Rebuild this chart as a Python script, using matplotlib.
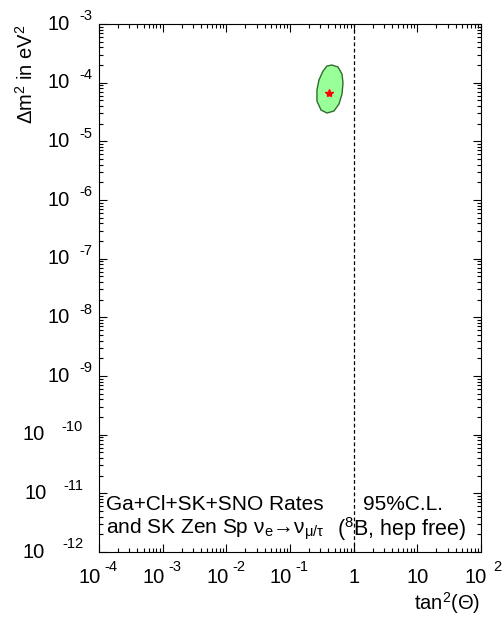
import numpy as np
import matplotlib
matplotlib.use('Agg')
import matplotlib.pyplot as plt
from matplotlib.ticker import FixedLocator, NullFormatter, LogLocator

plt.rcParams['font.family'] = ['Liberation Sans', 'DejaVu Sans']
plt.rcParams['mathtext.fontset'] = 'custom'
plt.rcParams['mathtext.rm'] = 'Liberation Sans'
plt.rcParams['mathtext.it'] = 'Liberation Sans'
plt.rcParams['mathtext.bf'] = 'Liberation Sans'

# 95% C.L. contour (tan^2 theta, delta m^2)
contour_tan2 = [0.456, 0.568, 0.656, 0.68, 0.656, 0.588, 0.491, 0.381,
                0.307, 0.265, 0.265, 0.285, 0.330, 0.381]
contour_dm2 = [2.0e-4, 1.85e-4, 1.40e-4, 9.86e-5, 6.4e-5, 4.33e-5, 3.29e-5,
               3.04e-5, 3.42e-5, 4.86e-5, 7.5e-5, 1.11e-4, 1.58e-4, 1.92e-4]
best_fit = (0.41, 6.65e-5)

x_exps = [-4, -3, -2, -1, 0, 1, 2]
y_exps = list(range(-12, -2))

fig = plt.figure(figsize=(5.03, 6.17), dpi=100)
ax = fig.add_axes([99/503, 1-552/617, 382/503, 528/617])
ax.set_xscale('log')
ax.set_yscale('log')
ax.set_xlim(10.0**x_exps[0], 10.0**x_exps[-1])
ax.set_ylim(10.0**y_exps[0], 10.0**(y_exps[-1]))

ax.fill(contour_tan2, contour_dm2, facecolor='#99ff99', edgecolor='#2f6b2f', lw=1.0)
ax.plot(*best_fit, marker='*', color='red', ms=6, mec='red')
ax.axvline(1, color='black', lw=0.9, ls=(0, (3, 2)))

ax.xaxis.set_major_locator(FixedLocator([10.0**e for e in x_exps]))
ax.yaxis.set_major_locator(FixedLocator([10.0**e for e in y_exps]))
for a in (ax.xaxis, ax.yaxis):
    a.set_major_formatter(NullFormatter())
    a.set_minor_locator(LogLocator(base=10, subs=np.arange(2, 10), numticks=20))
    a.set_minor_formatter(NullFormatter())

ax.tick_params(which='both', direction='in', top=True, right=True, width=0.8)
ax.tick_params(which='major', length=5.5)
ax.tick_params(which='minor', length=3)
for s in ax.spines.values():
    s.set_linewidth(0.8)

big, small = 14.5, 10.5
# x tick labels: "10" with a raised exponent, like the original
for e in x_exps:
    v = 10.0**e
    if e in (0, 1):
        ax.annotate(str(int(v)), (v, 0), xycoords=('data', 'axes fraction'),
                    xytext=(0, -18.5), textcoords='offset points',
                    ha='center', va='center', fontsize=big)
        continue
    pos = e > 0
    ax.annotate('10', (v, 0), xycoords=('data', 'axes fraction'),
                xytext=(-4 if pos else -6.5, -18.5), textcoords='offset points',
                ha='center', va='center', fontsize=big)
    ax.annotate(str(e), (v, 0), xycoords=('data', 'axes fraction'),
                xytext=(9 if pos else 4, -11), textcoords='offset points',
                ha='left', va='center', fontsize=small)

# y tick labels
for e in y_exps:
    v = 10.0**e
    wide = len(str(e)) > 2
    ex = ax.annotate(str(e), (0, v), xycoords=('axes fraction', 'data'),
                     xytext=(-11.5 if wide else -5, 5.5), textcoords='offset points',
                     ha='right', va='center', fontsize=small)
    ax.annotate('10', (0, 0.5), xycoords=ex, xytext=(-12 if wide else -7, -5.5),
                textcoords='offset points', ha='right', va='center', fontsize=big)

ax.text(0.018, 0.090, 'Ga+Cl+SK+SNO Rates', transform=ax.transAxes, fontsize=15, va='center')
ax.text(0.691, 0.090, '95%C.L.', transform=ax.transAxes, fontsize=15, va='center')
ax.text(0.018, 0.043, r'and SK Zen Sp ν$_{e}$→ν$_{μ/τ}$', transform=ax.transAxes, fontsize=15, va='center')
ax.text(0.623, 0.043, r'($^{8}$B, hep free)', transform=ax.transAxes, fontsize=15.5, va='center')

fig.text(26/503, 1-74/617, r'Δm$^{2}$ in eV$^{2}$', rotation=90, ha='center', va='center', fontsize=14.5)
fig.text(447/503, 1-603/617, r'tan$^{2}$(Θ)', ha='center', va='center', fontsize=14.5)

fig.savefig('out.png', dpi=100)
